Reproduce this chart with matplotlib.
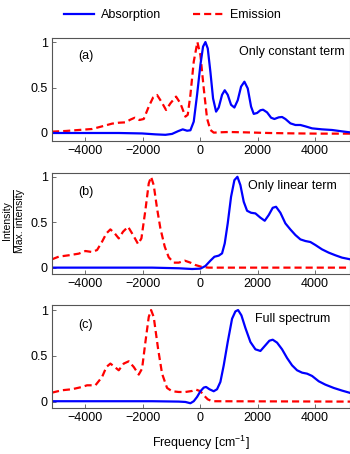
import matplotlib
matplotlib.use("Agg")
import matplotlib.pyplot as plt
from matplotlib.lines import Line2D

plt.rcParams['font.family'] = ['Liberation Sans', 'DejaVu Sans']
plt.rcParams['mathtext.fontset'] = 'custom'
plt.rcParams['mathtext.rm'] = 'Liberation Sans'
plt.rcParams['mathtext.it'] = 'Liberation Sans:italic'
plt.rcParams['mathtext.bf'] = 'Liberation Sans:bold'

# ---------------- data ----------------
# Panel (a): only constant term
a_abs_x = [-5148, -3988, -2829, -2017, -1553, -1206, -974, -765, -603, -452, -336, -220, -104, 12, 104, 186,
           267, 360, 452, 557, 649, 765, 858, 962, 1078, 1194, 1310, 1426, 1542, 1658, 1774, 1867, 1983,
           2099, 2191, 2330, 2470, 2585, 2736, 2852, 2968, 3142, 3316, 3490, 3664, 3896, 4243, 4591, 4939, 5217]
a_abs_y = [0.0, 0.0, 0.0, -0.005, -0.015, -0.02, -0.01, 0.02, 0.04, 0.025, 0.03, 0.125, 0.42, 0.75, 0.95, 1.0,
           0.93, 0.67, 0.38, 0.235, 0.28, 0.42, 0.47, 0.42, 0.31, 0.28, 0.36, 0.51, 0.564, 0.49, 0.29, 0.21, 0.22,
           0.25, 0.256, 0.227, 0.168, 0.154, 0.172, 0.176, 0.154, 0.106, 0.088, 0.088, 0.073, 0.051, 0.04, 0.033, 0.018, 0.007]
a_emi_x = [-5148, -4684, -4220, -3756, -3408, -3060, -2829, -2597, -2423, -2272, -2110, -1959, -1785, -1635,
           -1496, -1345, -1183, -1032, -835, -684, -510, -429, -336, -220, -93, 12, 128, 243, 360, 475, 649,
           997, 1577, 2388, 3200, 4127, 5217]
a_emi_y = [0.015, 0.022, 0.033, 0.044, 0.073, 0.103, 0.113, 0.117, 0.147, 0.168, 0.143, 0.154, 0.29, 0.39,
           0.418, 0.344, 0.253, 0.326, 0.40, 0.326, 0.18, 0.2, 0.418, 0.784, 1.0, 0.857, 0.49, 0.16, 0.033, 0.004, 0.007,
           0.011, 0.007, 0.0, -0.004, -0.007, -0.007]

# Panel (b): only linear term
b_abs_x = [-5148, -1670, -742, -278, 12, 186, 360, 499, 649, 765, 858, 962, 1078, 1194, 1299, 1403, 1519, 1635,
           1774, 1925, 2099, 2249, 2388, 2528, 2643, 2794, 2968, 3142, 3316, 3490, 3664, 3838, 4012, 4243, 4475,
           4707, 4939, 5217]
b_abs_y = [0.0, 0.0, -0.007, -0.015, -0.011, 0.018, 0.077, 0.12, 0.132, 0.157, 0.267, 0.487, 0.78, 0.963, 1.0,
           0.908, 0.725, 0.626, 0.604, 0.597, 0.55, 0.516, 0.579, 0.659, 0.67, 0.604, 0.487, 0.42, 0.359, 0.311,
           0.293, 0.282, 0.249, 0.201, 0.165, 0.136, 0.11, 0.092]
b_emi_x = [-5148, -4916, -4568, -4220, -3988, -3756, -3582, -3408, -3258, -3119, -2968, -2829, -2678, -2504,
           -2330, -2156, -2040, -1901, -1785, -1704, -1612, -1496, -1380, -1229, -1090, -916, -742, -533, -336,
           -162, 70, 301, 5217]
b_emi_y = [0.092, 0.121, 0.136, 0.154, 0.183, 0.172, 0.194, 0.286, 0.377, 0.421, 0.377, 0.322, 0.396, 0.45,
           0.359, 0.26, 0.322, 0.634, 0.927, 1.0, 0.908, 0.652, 0.432, 0.231, 0.114, 0.055, 0.055, 0.077, 0.055,
           0.029, 0.007, 0.0, 0.0]

# Panel (c): full spectrum
c_abs_x = [-5148, -2829, -1670, -742, -510, -336, -220, -104, 12, 128, 209, 325, 475, 591, 707, 823, 962, 1113,
           1229, 1322, 1438, 1577, 1751, 1925, 2099, 2272, 2411, 2527, 2678, 2852, 3026, 3200, 3374, 3548, 3722,
           3896, 4127, 4359, 4650, 4939, 5217]
c_abs_y = [0.004, 0.004, 0.004, 0.0, -0.004, -0.018, 0.004, 0.051, 0.113, 0.153, 0.16, 0.135, 0.113, 0.135,
           0.215, 0.396, 0.651, 0.905, 0.985, 1.0, 0.942, 0.804, 0.651, 0.571, 0.553, 0.615, 0.665, 0.676, 0.644,
           0.571, 0.476, 0.396, 0.342, 0.316, 0.305, 0.28, 0.222, 0.185, 0.149, 0.12, 0.095]
c_emi_x = [-5148, -4800, -4452, -4104, -3930, -3640, -3408, -3258, -3119, -2968, -2829, -2655, -2481, -2307,
           -2133, -2017, -1901, -1785, -1704, -1612, -1461, -1322, -1148, -974, -742, -510, -278, -139, 12, 128,
           267, 417, 5217]
c_emi_y = [0.098, 0.124, 0.135, 0.16, 0.178, 0.178, 0.269, 0.378, 0.415, 0.378, 0.342, 0.415, 0.44, 0.378,
           0.295, 0.36, 0.651, 0.924, 1.0, 0.924, 0.578, 0.305, 0.149, 0.113, 0.105, 0.105, 0.116, 0.131, 0.113,
           0.069, 0.025, 0.004, 0.0]

panel_tags = ["(a)", "(b)", "(c)"]
panel_titles = ["Only constant term", "Only linear term", "Full spectrum"]
x_ticks = [-4000, -2000, 0, 2000, 4000]
y_ticks = [0, 0.5, 1]
y_tick_labels = ["0", "0.5", "1"]

# ---------------- figure ----------------
W, H = 350, 454
fig = plt.figure(figsize=(W / 100, H / 100), dpi=100)

def frac_rect(left, top, right, bottom):
    return [left / W, 1 - bottom / H, (right - left) / W, (bottom - top) / H]

rects = [frac_rect(52, 37.5, 350, 141), frac_rect(52, 172.7, 350, 274), frac_rect(52, 305, 350, 408)]
ylims = [(-0.088, 1.05), (-0.07, 1.045), (-0.07, 1.055)]
tag_pos = [(0.114, 0.817), (0.114, 0.81), (0.114, 0.806)]
title_pos = [(0.983, 0.856), (0.956, 0.864), (0.933, 0.864)]

series = [(a_abs_x, a_abs_y, a_emi_x, a_emi_y),
          (b_abs_x, b_abs_y, b_emi_x, b_emi_y),
          (c_abs_x, c_abs_y, c_emi_x, c_emi_y)]

blue = '#0000ff'
red = '#ff0000'
fs = 9

for i, (ax_x, ax_y, em_x, em_y) in enumerate(series):
    ax = fig.add_axes(rects[i])
    ax.plot(em_x, em_y, color=red, lw=1.6, ls=(0, (3.2, 1.8)), solid_joinstyle='round')
    ax.plot(ax_x, ax_y, color=blue, lw=1.6, solid_joinstyle='round')
    ax.set_xlim(-5150, 5215)
    ax.set_ylim(*ylims[i])
    ax.set_xticks(x_ticks)
    ax.set_yticks(y_ticks)
    ax.set_yticklabels(y_tick_labels)
    ax.tick_params(direction='in', length=3, width=0.6, color='#555555', labelsize=fs, pad=3)
    for s in ax.spines.values():
        s.set_color('#555555')
        s.set_linewidth(0.8)
    ax.text(tag_pos[i][0], tag_pos[i][1], panel_tags[i], transform=ax.transAxes,
            ha='center', va='center', fontsize=fs)
    ax.text(title_pos[i][0], title_pos[i][1], panel_titles[i], transform=ax.transAxes,
            ha='right', va='center', fontsize=fs)

# legend
handles = [Line2D([], [], color=blue, lw=1.6),
           Line2D([], [], color=red, lw=1.6, ls=(0, (3.2, 1.8)))]
fig.legend(handles, ["Absorption", "Emission"], loc='center', bbox_to_anchor=(172.5 / W, 1 - 15 / H),
           ncol=2, frameon=False, fontsize=fs, handlelength=2.4, handletextpad=0.56, columnspacing=2.56)

# y label as fraction
yc = 1 - 221 / H
fig.text(7 / W, yc, "Intensity", rotation=90, ha='center', va='center', fontsize=7.5)
fig.text(20 / W, yc, "Max. intensity", rotation=90, ha='center', va='center', fontsize=7.5)
fig.add_artist(Line2D([13 / W, 13 / W], [1 - 190 / H, 1 - 252 / H], color='black', lw=0.7,
                      transform=fig.transFigure))

# x label
fig.text(201 / W, 1 - 443 / H, "Frequency [cm$^{-1}$]", ha='center', va='center', fontsize=fs)

fig.savefig("out.png", dpi=100)
